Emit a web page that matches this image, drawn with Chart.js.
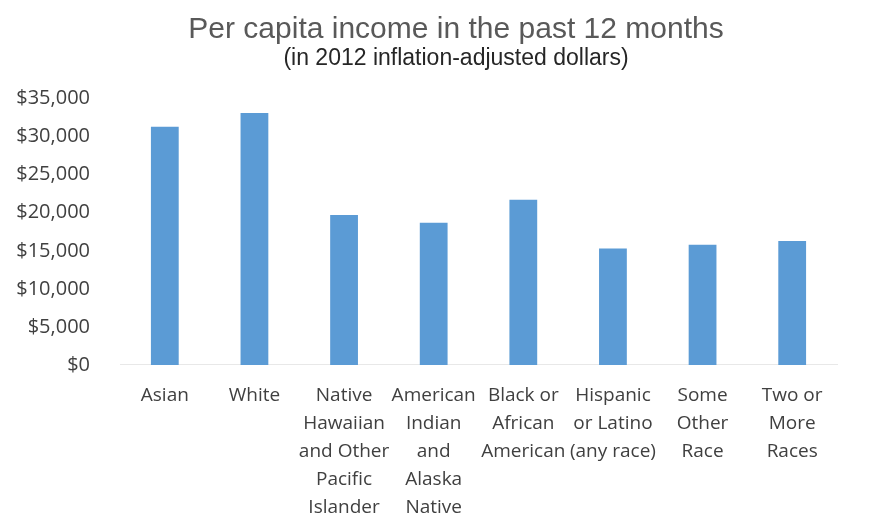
<!DOCTYPE html>
<html>
<head>
<meta charset="utf-8">
<script src="https://cdn.jsdelivr.net/npm/chart.js@4"></script>
<style>
html,body{margin:0;padding:0;background:#fff;}
#wrap{width:876px;height:518px;}
</style>
</head>
<body>
<div id="wrap"><canvas id="c" width="876" height="518"></canvas></div>
<script>
const categories = [
  ["Asian"],
  ["White"],
  ["Native", "Hawaiian", "and Other", "Pacific", "Islander"],
  ["American", "Indian", "and", "Alaska", "Native"],
  ["Black or", "African", "American"],
  ["Hispanic", "or Latino", "(any race)"],
  ["Some", "Other", "Race"],
  ["Two or", "More", "Races"]
];
const incomeValues = [31300, 33100, 19700, 18700, 21700, 15300, 15800, 16300];
const yTicks = [0, 5000, 10000, 15000, 20000, 25000, 30000, 35000];
const titleText = "Per capita income in the past 12 months";
const subtitleText = "(in 2012 inflation-adjusted dollars)";

const TITLE_CENTER_X = 456;
const shiftTitles = {
  id: 'shiftTitles',
  afterLayout(chart) {
    chart.boxes.forEach(b => {
      if (b.options && (b.options.text === titleText || b.options.text === subtitleText)) {
        const cur = (b.left + b.right) / 2;
        const d = TITLE_CENTER_X - cur;
        b.left += d; b.right += d;
      }
    });
  }
};

new Chart(document.getElementById('c'), {
  type: 'bar',
  data: {
    labels: categories,
    datasets: [{
      data: incomeValues,
      backgroundColor: '#5B9BD5',
      borderWidth: 0,
      categoryPercentage: 1.0,
      barPercentage: 0.31
    }]
  },
  plugins: [shiftTitles],
  options: {
    responsive: false,
    animation: false,
    layout: { padding: { left: 0, right: 39, top: 15, bottom: -21 } },
    plugins: {
      legend: { display: false },
      tooltip: { enabled: false },
      title: {
        display: true,
        text: titleText,
        color: '#595959',
        font: { family: 'Liberation Sans', size: 30, weight: 'normal', lineHeight: 1.0 },
        padding: { top: 0, bottom: 0 }
      },
      subtitle: {
        display: true,
        text: subtitleText,
        color: '#262626',
        font: { family: 'Liberation Sans', size: 23, weight: 'normal', lineHeight: 1.2 },
        padding: { top: 0, bottom: 26 }
      }
    },
    scales: {
      x: {
        grid: { display: false, drawTicks: false },
        border: { display: true, color: '#e8e8e8', width: 1 },
        ticks: {
          color: '#404040',
          font: { family: 'Open Sans', size: 19, lineHeight: 1.4737 },
          padding: 17,
          maxRotation: 0,
          autoSkip: false
        }
      },
      y: {
        min: 0,
        max: 35000,
        afterBuildTicks: (axis) => { axis.ticks = yTicks.map(v => ({ value: v })); },
        afterFit: (axis) => { axis.width = 120; },
        grid: { display: false, drawTicks: false },
        border: { display: false },
        ticks: {
          color: '#404040',
          font: { family: 'Open Sans', size: 20 },
          padding: 30,
          callback: (v) => '$' + Number(v).toLocaleString('en-US')
        }
      }
    }
  }
});
</script>
</body>
</html>
